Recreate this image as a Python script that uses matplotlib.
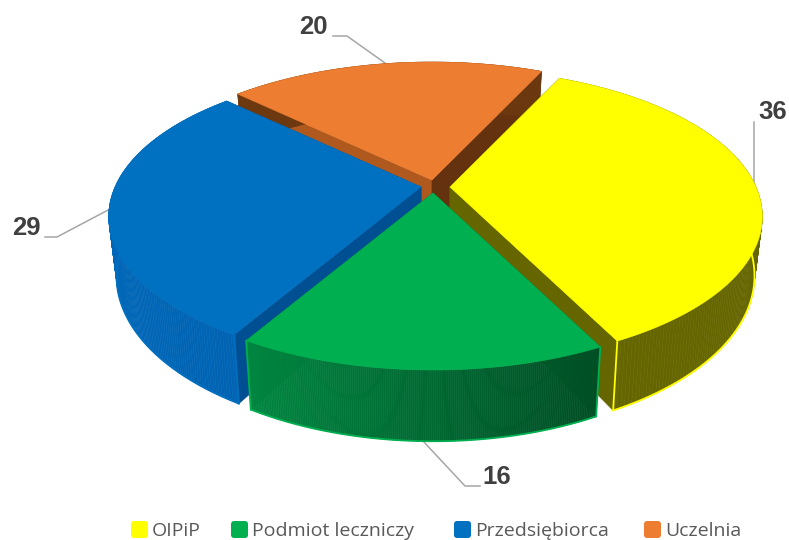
import numpy as np
import matplotlib
matplotlib.use("Agg")
import matplotlib.pyplot as plt
from matplotlib.patches import Polygon, FancyBboxPatch
from matplotlib.collections import PolyCollection

categories = ["OIPiP", "Podmiot leczniczy", "Przedsiębiorca", "Uczelnia"]
values = [36, 16, 29, 20]
top_colors = ["#FFFF00", "#00B050", "#0070C0", "#ED7D31"]
edge_colors = ["#FFFF00", "#00B050", "#0070C0", None]
side_left = [(0.40, 0.40, 0.0), (0.0, 0.60, 0.29), (0.0, 0.40, 0.72), (0.42, 0.22, 0.06)]
side_right = [(0.40, 0.40, 0.0), (0.0, 0.22, 0.10), (0.0, 0.34, 0.62), (0.42, 0.22, 0.06)]
face_start = ["#666600", "#007a3a", "#004F92", "#B0591F"]
face_end = ["#666600", "#007a3a", "#004F92", "#653210"]
apexes = [(450, 187), (433, 193), (421, 187), (432, 180)]
draw_order = [3, 0, 2, 1]

START = 25.0
K, A, B, DEPTH, SHRINK = 0.2, 141.6, 306.0, 57.0, 0.975


def project(theta, apex, bottom=False):
    t = np.radians(theta)
    X, Y = np.sin(t), -np.cos(t)
    s = 1.0 / (1 - K * Y)
    x, y = B * X * s, A * Y * s
    if bottom:
        return apex[0] + SHRINK * x, apex[1] + y + DEPTH * s
    return apex[0] + x, apex[1] + y


fig = plt.figure(figsize=(7.89, 5.40), dpi=100, facecolor="white")
ax = fig.add_axes([0, 0, 1, 1])
ax.set_xlim(0, 789)
ax.set_ylim(540, 0)
ax.axis("off")

edges = START + np.concatenate([[0], np.cumsum(values)]) * 360.0 / sum(values)

for i in draw_order:
    a0, a1 = edges[i], edges[i + 1]
    apex = apexes[i]
    apex_b = (apex[0], apex[1] + DEPTH)
    # radial faces
    for ang, col in ((a0, face_start[i]), (a1, face_end[i])):
        pts = [apex, project(ang, apex), project(ang, apex, True), apex_b]
        ax.add_patch(Polygon(pts, closed=True, fc=col, ec=col, lw=0.5, zorder=2 + draw_order.index(i) * 3))
    # outer wall with shading
    th = np.linspace(a0, a1, 181)
    xt, yt = project(th, apex)
    xb, yb = project(th, apex, True)
    quads = [[(xt[j], yt[j]), (xt[j + 1], yt[j + 1]), (xb[j + 1], yb[j + 1]), (xb[j], yb[j])]
             for j in range(len(th) - 1)]
    f = np.clip((xt[:-1] - apex[0] + 306) / 612, 0, 1)
    cl, cr = np.array(side_left[i]), np.array(side_right[i])
    cols = [tuple(cl + (cr - cl) * v) for v in f]
    ax.add_collection(PolyCollection(quads, facecolors=cols, edgecolors=cols, linewidths=0.4,
                                     zorder=3 + draw_order.index(i) * 3))
    # bright outlines of the wall
    if edge_colors[i]:
        ec = edge_colors[i]
        z = 3.5 + draw_order.index(i) * 3
        ax.plot(xb, yb, color=ec, lw=1.3, zorder=z, solid_capstyle="round")
        front = a1 if i == 0 else a0
        p, q = project(front, apex), project(front, apex, True)
        ax.plot([p[0], q[0]], [p[1], q[1]], color=ec, lw=1.3, zorder=z)
        if i == 1:
            p, q = project(a1, apex), project(a1, apex, True)
            ax.plot([p[0], q[0]], [p[1], q[1]], color=ec, lw=1.3, zorder=z)
    # top surface
    xt2 = np.concatenate([[apex[0]], xt])
    yt2 = np.concatenate([[apex[1]], yt])
    ax.add_patch(Polygon(np.column_stack([xt2, yt2]), closed=True, fc=top_colors[i],
                         ec=top_colors[i], lw=0.4, zorder=4 + draw_order.index(i) * 3))

# leader lines and data labels
leaders = [[(754, 122), (754, 185)], [(423, 441), (465, 486), (480, 486)],
           [(45, 237), (57, 237), (110, 209)], [(333, 36), (347, 36), (385, 63)]]
label_pos = [(773, 112), (497, 477), (26, 228), (313, 27)]
for v, ln, pos in zip(values, leaders, label_pos):
    xs, ys = zip(*ln)
    ax.plot(xs, ys, color="#A6A6A6", lw=1.1, zorder=1 if ln[0][0] != 423 else 1)
    ax.text(pos[0], pos[1], str(v), ha="center", va="center", fontsize=18.5, fontweight="bold",
            family="Liberation Sans", color="#404040", zorder=30)

# legend
swatch_x = [131, 231, 454, 644]
text_x = [152, 252, 475, 665]
for c, col, sx, tx in zip(categories, top_colors, swatch_x, text_x):
    ax.add_patch(FancyBboxPatch((sx + 2, 523), 13, 13, boxstyle="round,pad=2,rounding_size=3",
                                fc=col, ec="none", zorder=30, clip_on=False))
    ax.text(tx, 530.5, c, ha="left", va="center", fontsize=14, family="Open Sans",
            color="#595959", zorder=30)

fig.savefig("out.png", dpi=100, facecolor="white")
